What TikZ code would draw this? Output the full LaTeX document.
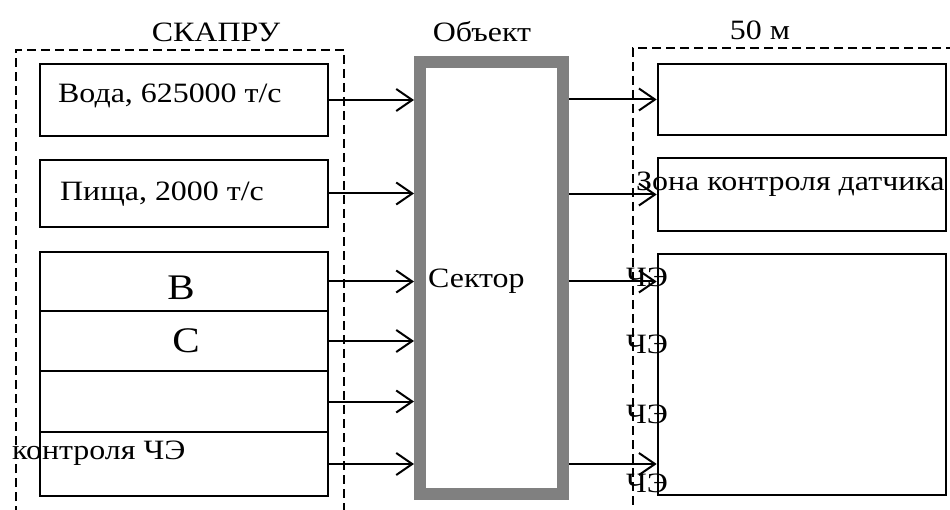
\documentclass[tikz,border=0pt]{standalone}
\usepackage{fontspec}
\setmainfont[FakeStretch=1.14]{Liberation Serif}
\usetikzlibrary{arrows.meta,positioning,calc}
\definecolor{ramka}{RGB}{128,128,128}
\tikzset{
  blok/.style={rectangle, draw=black, line width=2.6pt, minimum width=288pt,
               minimum height=#1, inner sep=0pt},
  pole/.style={draw=black, line width=2pt, dash pattern=on 9pt off 5pt},
  sekt/.style={rectangle, draw=ramka, line width=12pt, minimum width=143pt,
               minimum height=432pt, inner sep=0pt},
  txt/.style={inner sep=0pt, font=\fontsize{28}{32}\selectfont},
  arr/.style={-{Straight Barb[length=16pt,width=22pt]}, line width=2pt, draw=black},
}
\begin{document}
\begin{tikzpicture}[x=1pt,y=-1pt]
    \useasboundingbox (0,0) rectangle (950,510);
    \draw[pole] (16,515) -- (16,50) -- (344,50) -- (344,515);
    \draw[pole] (955,48) -- (633,48) -- (633,515);
    \node[txt] (skapru) at (216,32) {СКАПРУ};
    \node[txt] (obekt) at (482,32) {Объект};
    \node[txt] (metr) at (760,30) {50 м};
    \node[blok=72pt] (voda) at (184,100) {};
    \node[blok=67pt] (pishcha) at (184,193.5) {};
    \node[blok=59pt] (vB) at (184,281.5) {};
    \node[blok=60pt] (vC) at (184,341) {};
    \node[blok=61pt] (vD) at (184,401.5) {};
    \node[blok=64pt] (vE) at (184,464) {};
    \node[sekt] (sektor) at (491.5,278) {};
    \node[blok=71pt] (z1) at (802,99.5) {};
    \node[blok=73pt] (zona) at (802,194.5) {};
    \node[blok=241pt] (z3) at (802,374.5) {};
    \node[txt, anchor=west] (tvoda) at (58,96) {Вода, 625000 т/с};
    \node[txt, anchor=west] (tpishcha) at (60,194) {Пища, 2000 т/с};
    \node[txt, font=\fontsize{36}{40}\selectfont] (tB) at (181,288) {B};
    \node[txt, font=\fontsize{36}{40}\selectfont] (tC) at (186,341) {C};
    \node[txt, anchor=west] (tE) at (12,453) {контроля ЧЭ};
    \node[txt, anchor=west] (tsektor) at (428,281) {Сектор};
    \node[txt, anchor=west] (tzona) at (636,184) {Зона контроля датчика};
    \foreach \y [count=\i] in {277,344,414,483}
      \node[txt] (che\i) at (647,\y) {ЧЭ};
    \foreach \v in {voda,pishcha,vB,vC,vD,vE}
      \draw[arr] (\v.east) -- (\v.east -| sektor.west);
    \draw[arr] (z1.west -| sektor.east) -- (z1.west);
    \draw[arr] (zona.west -| sektor.east) -- (zona.west);
    \draw[arr] (vB -| sektor.east) -- (vB -| z3.west);
    \draw[arr] (vE -| sektor.east) -- (vE -| z3.west);
  \end{tikzpicture}
\end{document}
